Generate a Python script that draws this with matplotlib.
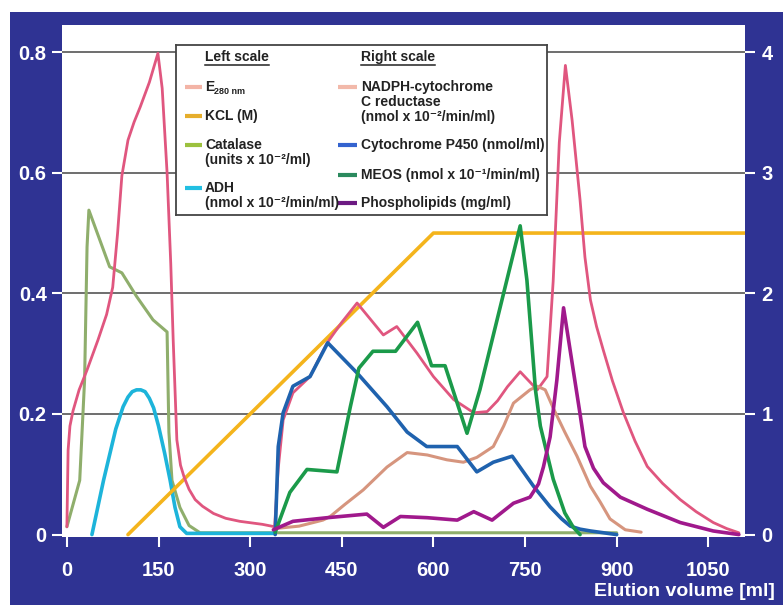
import matplotlib
matplotlib.use('Agg')
import matplotlib.pyplot as plt
from matplotlib.patches import Rectangle

plt.rcParams['font.family'] = ['Liberation Sans', 'DejaVu Sans']

# ---------------- data ----------------
# Left scale
e280_x = [0, 2, 5, 10, 20, 33, 51, 65, 75, 83, 90, 100, 110, 120, 135, 149, 156, 164, 170,
          174, 180, 186, 192, 200, 210, 222, 240, 260, 283, 320, 340,
          346, 354, 370, 398, 426, 450, 475, 518, 540, 573, 600, 633, 666, 688, 705, 721, 742,
          770, 786, 796, 806, 816, 827, 840, 848, 857, 867, 878, 893, 911, 930, 950, 975,
          1004, 1030, 1058, 1080, 1100]
e280_y = [0.013, 0.14, 0.18, 0.205, 0.24, 0.273, 0.323, 0.365, 0.41, 0.5, 0.595, 0.654,
          0.684, 0.709, 0.75, 0.798, 0.74, 0.60, 0.45, 0.323, 0.157, 0.115, 0.095, 0.075,
          0.058, 0.047, 0.035, 0.027, 0.022, 0.017, 0.013,
          0.11, 0.19, 0.235, 0.262, 0.318, 0.352, 0.384, 0.331, 0.345, 0.301, 0.262, 0.224,
          0.202, 0.204, 0.222, 0.245, 0.27, 0.24, 0.262, 0.42, 0.65, 0.778, 0.687, 0.555,
          0.46, 0.389, 0.345, 0.306, 0.255, 0.202, 0.155, 0.113, 0.085, 0.058, 0.038, 0.02,
          0.01, 0.003]

kcl_x = [100, 600, 1110]
kcl_y = [0.0, 0.5, 0.5]

catalase_x = [0, 21, 29, 33, 36, 70, 90, 114, 141, 164, 167, 172, 185, 200, 218, 900]
catalase_y = [0.013, 0.09, 0.257, 0.477, 0.538, 0.444, 0.434, 0.395, 0.356, 0.336, 0.17,
              0.09, 0.045, 0.015, 0.003, 0.003]

adh_x = [41, 60, 80, 92, 100, 107, 114, 121, 128, 135, 142, 150, 160, 169, 177, 185, 196, 340]
adh_y = [0.0, 0.09, 0.175, 0.212, 0.228, 0.237, 0.24, 0.24, 0.237, 0.226, 0.21, 0.18,
         0.135, 0.09, 0.045, 0.013, 0.002, 0.002]

# Right scale
nadph_x = [340, 380, 419, 431, 455, 485, 524, 557, 590, 622, 649, 671, 698, 715, 731, 758,
           770, 783, 796, 815, 835, 857, 873, 889, 914, 940]
nadph_y = [0.05, 0.07, 0.12, 0.15, 0.25, 0.37, 0.56, 0.68, 0.66, 0.62, 0.60, 0.64, 0.73,
           0.9, 1.09, 1.2, 1.23, 1.2, 1.05, 0.85, 0.65, 0.4, 0.27, 0.13, 0.04, 0.02]

p450_x = [341, 346, 354, 370, 398, 427, 475, 524, 557, 589, 639, 671, 698, 729, 764, 791,
          810, 824, 840, 857, 900]
p450_y = [0.0, 0.73, 1.01, 1.23, 1.31, 1.59, 1.34, 1.06, 0.85, 0.73, 0.73, 0.52, 0.60,
          0.65, 0.40, 0.23, 0.13, 0.07, 0.045, 0.03, 0.0]

meos_x = [341, 365, 393, 442, 464, 478, 501, 538, 574, 597, 619, 655, 676, 742, 753, 767,
          775, 796, 815, 829, 840]
meos_y = [0.02, 0.35, 0.54, 0.52, 1.06, 1.38, 1.52, 1.52, 1.76, 1.40, 1.40, 0.84, 1.2,
          2.56, 2.11, 1.2, 0.9, 0.46, 0.18, 0.06, 0.0]

phospho_x = [338, 370, 426, 491, 518, 546, 590, 639, 666, 696, 731, 758, 772, 780, 791, 802,
             813, 840, 848, 862, 878, 906, 950, 1004, 1058, 1100]
phospho_y = [0.04, 0.11, 0.14, 0.17, 0.06, 0.15, 0.14, 0.12, 0.19, 0.12, 0.26, 0.31, 0.42,
             0.56, 0.81, 1.28, 1.88, 1.0, 0.73, 0.55, 0.43, 0.31, 0.21, 0.10, 0.03, 0.0]

x_ticks = [0, 150, 300, 450, 600, 750, 900, 1050]
x_tick_labels = ['0', '150', '300', '450', '600', '750', '900', '1050']
left_ticks = [0, 0.2, 0.4, 0.6, 0.8]
left_tick_labels = ['0', '0.2', '0.4', '0.6', '0.8']
right_ticks = [0, 1, 2, 3, 4]
right_tick_labels = ['0', '1', '2', '3', '4']

# ---------------- figure ----------------
W, H = 783, 605
fig = plt.figure(figsize=(W / 100, H / 100), dpi=100, facecolor='white')
navy = '#2f3393'
fig.patches.append(Rectangle((10 / W, 0), 1 - 10 / W, 1 - 12 / H, transform=fig.transFigure,
                             facecolor=navy, edgecolor='none', zorder=-10))


def px(l, b, r, t):
    return [l / W, 1 - b / H, (r - l) / W, (b - t) / H]


ax = fig.add_axes(px(62, 537, 745, 25))
ax.set_xlim(-8, 1110)
ax.set_ylim(-0.004, 0.845)
ax.set_facecolor('white')
ax2 = ax.twinx()
ax2.set_ylim(-0.02, 4.225)
for a in (ax, ax2):
    for s in a.spines.values():
        s.set_visible(False)

for g in left_ticks[1:]:
    ax.axhline(g, color='#555555', lw=1.2, zorder=1)

c_e280 = '#e0567f'
c_kcl = '#f4b41c'
c_cat = '#8fae6c'
c_adh = '#1db4da'
c_nadph = '#d6957e'
c_p450 = '#1f62ae'
c_meos = '#1b9a4a'
c_pl = '#a0198c'

kw = dict(solid_joinstyle='round', solid_capstyle='round')
ax.plot(catalase_x, catalase_y, color=c_cat, lw=2.2, zorder=3, **kw)
ax.plot(adh_x, adh_y, color=c_adh, lw=2.6, zorder=3, **kw)
ax.plot(kcl_x, kcl_y, color=c_kcl, lw=2.6, zorder=3, **kw)
ax.plot(e280_x, e280_y, color=c_e280, lw=2.0, zorder=4, **kw)
ax2.plot(nadph_x, nadph_y, color=c_nadph, lw=2.2, zorder=3, **kw)
ax2.plot(p450_x, p450_y, color=c_p450, lw=2.6, zorder=3, **kw)
ax2.plot(meos_x, meos_y, color=c_meos, lw=2.6, zorder=3, **kw)
ax2.plot(phospho_x, phospho_y, color=c_pl, lw=2.6, zorder=3, **kw)

ax.set_xticks(x_ticks)
ax.set_xticklabels(x_tick_labels)
ax.set_yticks(left_ticks)
ax.set_yticklabels(left_tick_labels)
ax2.set_yticks(right_ticks)
ax2.set_yticklabels(right_tick_labels)
ax.tick_params(axis='x', direction='out', length=7, width=1.5, color='white',
               labelcolor='white', labelsize=14.5, pad=10)
ax.tick_params(axis='y', direction='out', length=7, width=1.5, color='white',
               labelcolor='white', labelsize=14.5, pad=4)
ax2.tick_params(axis='y', direction='out', length=7, width=1.5, color='white',
                labelcolor='white', labelsize=14.5, pad=5)
for lab in ax.get_xticklabels() + ax.get_yticklabels() + ax2.get_yticklabels():
    lab.set_fontweight('bold')

fig.text(775 / W, 1 - 592 / H, 'Elution volume [ml]', ha='right', va='center',
         color='white', fontsize=14, fontweight='bold')

# ---------------- legend box ----------------
lg = fig.add_axes(px(176, 215, 547, 45))
lg.set_xlim(176, 547)
lg.set_ylim(215, 45)
lg.set_xticks([])
lg.set_yticks([])
lg.set_facecolor('white')
for s in lg.spines.values():
    s.set_color('#444444')
    s.set_linewidth(1.3)

tc = '#222222'
fs = 10


def T(x, y, s, size=fs):
    return lg.text(x, y, s, fontsize=size, fontweight='bold', color=tc, va='center', ha='left')


h1 = T(205, 57, 'Left scale')
h2 = T(361, 57, 'Right scale')

leg_left = [(87, '#f3b4a6'), (116, '#e6ae2c'), (145, '#9cc13e'), (188, '#22bfe2')]
leg_right = [(87, '#f2b9aa'), (145, '#3463cf'), (175, '#2b8a5e'), (203, '#6c1a82')]
for y, c in leg_left:
    lg.plot([185, 202], [y, y], color=c, lw=3, solid_capstyle='butt')
for y, c in leg_right:
    lg.plot([338, 357], [y, y], color=c, lw=3, solid_capstyle='butt')

T(205, 87, 'E')
T(214, 91, '280 nm', size=6.5)
T(205, 116, 'KCL (M)')
T(205, 145, 'Catalase')
T(205, 160, '(units x 10\u207b\u00b2/ml)')
T(205, 188, 'ADH')
T(205, 203, '(nmol x 10\u207b\u00b2/min/ml)')
T(361, 87, 'NADPH-cytochrome')
T(361, 102, 'C reductase')
T(361, 117, '(nmol x 10\u207b\u00b2/min/ml)')
T(361, 145, 'Cytochrome P450 (nmol/ml)')
T(361, 175, 'MEOS (nmol x 10\u207b\u00b9/min/ml)')
T(361, 203, 'Phospholipids (mg/ml)')

fig.canvas.draw()
r = fig.canvas.get_renderer()
inv = lg.transData.inverted()
for h in (h1, h2):
    bb = h.get_window_extent(r).transformed(inv)
    yb = max(bb.y0, bb.y1) + 0.5
    lg.plot([bb.x0, bb.x1], [yb, yb], color=tc, lw=1.1)

fig.savefig('out.png', dpi=100, facecolor='white')
